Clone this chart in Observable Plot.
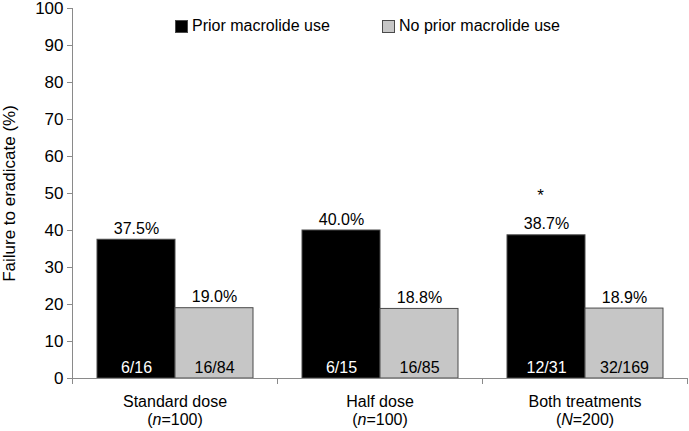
<!DOCTYPE html>
<html>
<head>
<meta charset="utf-8">
<script src="https://cdn.jsdelivr.net/npm/d3@7"></script>
<script src="https://cdn.jsdelivr.net/npm/@observablehq/plot@0.6"></script>
<style>
  html, body { margin: 0; padding: 0; background: #fff; }
  #wrap { position: relative; width: 689px; height: 431px; font-family: "Liberation Sans", Arial, Helvetica, sans-serif; }
  .leg { position: absolute; top: 17px; display: flex; align-items: center; font-size: 16px; color: #000; white-space: nowrap; }
  .sw { width: 11px; height: 11px; border: 1px solid #4a4a4a; margin-right: 4px; box-sizing: content-box; }
</style>
</head>
<body>
<div id="wrap"></div>
<script>
const groups = ["Standard dose", "Half dose", "Both treatments"];
const groupNs = ["(n=100)", "(n=100)", "(N=200)"];
const series = ["Prior macrolide use", "No prior macrolide use"];
const priorPct = [37.5, 40.0, 38.7];
const noPriorPct = [19.0, 18.8, 18.9];
const priorFrac = ["6/16", "6/15", "12/31"];
const noPriorFrac = ["16/84", "16/85", "32/169"];
const markers = ["", "", "*"];
const yTicks = [0, 10, 20, 30, 40, 50, 60, 70, 80, 90, 100];
const colors = ["#000000", "#c6c6c6"];

const data = groups.flatMap((g, i) => [
  {group: g, series: series[0], value: priorPct[i], frac: priorFrac[i], mark: markers[i]},
  {group: g, series: series[1], value: noPriorPct[i], frac: noPriorFrac[i], mark: ""}
]);

const W = 689, H = 431, ML = 72, MR = 2;
const half = (W - ML - MR) / groups.length / 2;

const plot = Plot.plot({
  width: W, height: H,
  marginLeft: ML, marginRight: MR, marginTop: 8, marginBottom: 53,
  style: {fontFamily: "'Liberation Sans', Arial, Helvetica, sans-serif", fontSize: "16px", color: "#000", background: "#fff", overflow: "visible"},
  fx: {domain: groups, padding: 0, label: null},
  x: {domain: series, paddingInner: 0, paddingOuter: 0.314, axis: null},
  y: {domain: [0, 100], label: null},
  color: {domain: series, range: colors},
  marks: [
    Plot.barY(data, {fx: "group", x: "series", y: "value", fill: "series", stroke: "#4a4a4a", strokeWidth: 1}),
    Plot.ruleY([0], {stroke: "#8a8a8a"}),
    Plot.text(data, {fx: "group", x: "series", y: "value", text: d => d.value.toFixed(1) + "%", dy: -11, fontSize: 16}),
    Plot.text(data, {fx: "group", x: "series", y: 0, text: "frac", dy: -11, fontSize: 16, fill: d => d.series === series[0] ? "#fff" : "#000"}),
    Plot.text(data.filter(d => d.mark), {fx: "group", x: "series", y: "value", text: "mark", dy: -40, dx: -6, fontSize: 17}),
    Plot.axisY({ticks: yTicks, tickSize: 5, tickPadding: 4, fontSize: 17, stroke: "#8a8a8a", label: "Failure to eradicate (%)", labelAnchor: "center", labelOffset: 70, labelArrow: "none"}),
    Plot.axisFx({anchor: "bottom", tickSize: 0, tickPadding: 15, lineHeight: 1.15, fontSize: 16, label: null,
      tickFormat: g => g + "\n" + groupNs[groups.indexOf(g)]}),
    Plot.axisFx({anchor: "bottom", tickSize: 6, stroke: "#8a8a8a", label: null, tickFormat: () => "", dx: -half}),
    Plot.axisFx({anchor: "bottom", ticks: [groups[groups.length - 1]], tickSize: 6, stroke: "#8a8a8a", label: null, tickFormat: () => "", dx: half}),
    Plot.frame({anchor: "left", facet: "super", stroke: "#8a8a8a"})
  ]
});

// italicise n / N in the group sample-size lines
const NS = "http://www.w3.org/2000/svg";
plot.querySelectorAll("tspan, text").forEach(t => {
  if (t.children.length) return;
  const m = t.textContent.match(/^\((n|N)(=.*)$/);
  if (m) {
    t.textContent = "(";
    const it = document.createElementNS(NS, "tspan");
    it.setAttribute("font-style", "italic");
    it.textContent = m[1];
    t.appendChild(it);
    t.appendChild(document.createTextNode(m[2]));
  }
});

const wrap = document.getElementById("wrap");
wrap.appendChild(plot);

const legLeft = [175, 382];
series.forEach((s, i) => {
  const d = document.createElement("div");
  d.className = "leg";
  d.style.left = legLeft[i] + "px";
  const sw = document.createElement("span");
  sw.className = "sw";
  sw.style.background = colors[i];
  const tx = document.createElement("span");
  tx.textContent = s;
  d.appendChild(sw);
  d.appendChild(tx);
  wrap.appendChild(d);
});
</script>
</body>
</html>
